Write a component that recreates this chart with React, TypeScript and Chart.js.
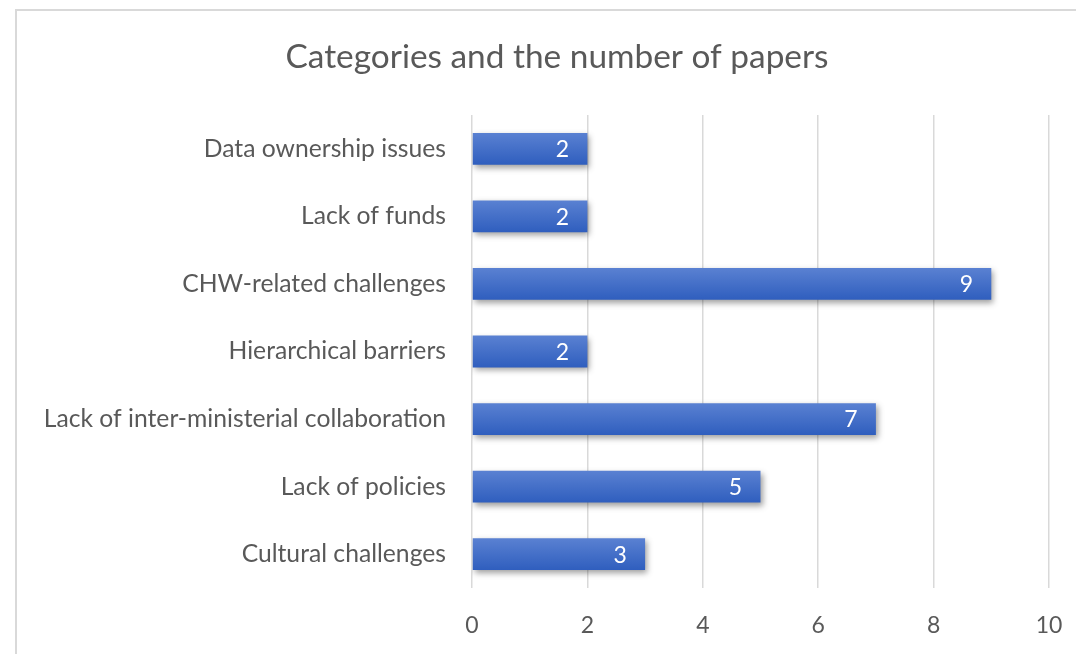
import React, { useEffect, useRef } from "react";
import { Chart, registerables } from "chart.js";

Chart.register(...registerables);

const categories = [
  "Data ownership issues",
  "Lack of funds",
  "CHW-related challenges",
  "Hierarchical barriers",
  "Lack of inter-ministerial collaboration",
  "Lack of policies",
  "Cultural challenges",
];
const paperCounts = [2, 2, 9, 2, 7, 5, 3];
const xTicks = [0, 2, 4, 6, 8, 10];
const titleText = "Categories and the number of papers";

const FONT = "Lato, 'Open Sans', sans-serif";
const TEXT = "#595959";

export default function App() {
  const ref = useRef<HTMLCanvasElement | null>(null);
  useEffect(() => {
    const canvas = ref.current;
    if (!canvas) return;
    const shadowPlugin = {
      id: "shadow",
      beforeDatasetsDraw(chart: any) {
        const c = chart.ctx;
        c.save();
        c.shadowColor = "rgba(0,0,0,0.38)";
        c.shadowBlur = 6;
        c.shadowOffsetX = 2;
        c.shadowOffsetY = 3;
      },
      afterDatasetsDraw(chart: any) {
        chart.ctx.restore();
      },
    };
    const labelPlugin = {
      id: "valueLabels",
      afterDraw(chart: any) {
        const c = chart.ctx;
        const meta = chart.getDatasetMeta(0);
        c.save();
        c.fillStyle = "#ffffff";
        c.font = `23px ${FONT}`;
        c.textAlign = "center";
        c.textBaseline = "middle";
        meta.data.forEach((el: any, i: number) => {
          c.fillText(String(paperCounts[i]), el.x - 25, el.y + 1);
        });
        // centered chart title
        c.fillStyle = TEXT;
        c.font = `33.4px ${FONT}`;
        c.fillText(titleText, chart.width / 2, 46);
        c.restore();
      },
    };
    const chart = new Chart(canvas, {
      type: "bar",
      data: {
        labels: categories,
        datasets: [
          {
            data: paperCounts,
            backgroundColor: (ctx: any) => {
              const ch = ctx.chart;
              const ys = ch.scales && ch.scales.y;
              if (!ys || ctx.dataIndex === undefined) return "#4472C4";
              const yc = ys.getPixelForValue(ctx.dataIndex);
              if (!Number.isFinite(yc)) return "#4472C4";
              const g = ch.ctx.createLinearGradient(0, yc - 16, 0, yc + 16);
              g.addColorStop(0, "#5a81d2");
              g.addColorStop(1, "#2f5ebe");
              return g;
            },
            borderWidth: 0,
            barPercentage: 0.47,
            categoryPercentage: 1,
          },
        ],
      },
      options: {
        indexAxis: "y",
        animation: false,
        responsive: false,
        maintainAspectRatio: false,
        devicePixelRatio: 1,
        layout: { padding: { left: 5, right: 48, top: 104, bottom: 0 } },
        plugins: {
          legend: { display: false },
          tooltip: { enabled: false },
          title: { display: false },
        },
        scales: {
          x: {
            min: 0,
            max: 10,
            afterBuildTicks: (scale: any) => {
              scale.ticks = xTicks.map((v) => ({ value: v }));
            },
            afterFit: (scale: any) => {
              scale.height = 83;
            },
            grid: { color: "#d9d9d9", lineWidth: 1.5, drawTicks: false },
            border: { display: false },
            ticks: {
              color: TEXT,
              font: { family: FONT, size: 23 },
              padding: 24,
            },
          },
          y: {
            afterFit: (scale: any) => {
              scale.width = 450;
            },
            grid: { display: false, drawTicks: false },
            border: { display: false },
            ticks: {
              color: TEXT,
              font: { family: FONT, size: 24.7 },
              padding: 26,
            },
          },
        },
      },
      plugins: [shadowPlugin, labelPlugin],
    } as any);
    return () => chart.destroy();
  }, []);
  return (
    <div style={{ position: "fixed", left: 0, top: 0, width: 1076, height: 654, overflow: "hidden", background: "#fff" }}>
      <div
        style={{
          position: "absolute",
          left: 15,
          top: 9,
          width: 1080,
          height: 660,
          border: "2px solid #d9d9d9",
          background: "#fff",
        }}
      >
        <canvas ref={ref} width={1080} height={660} style={{ display: "block", width: 1080, height: 660 }} />
      </div>
    </div>
  );
}
